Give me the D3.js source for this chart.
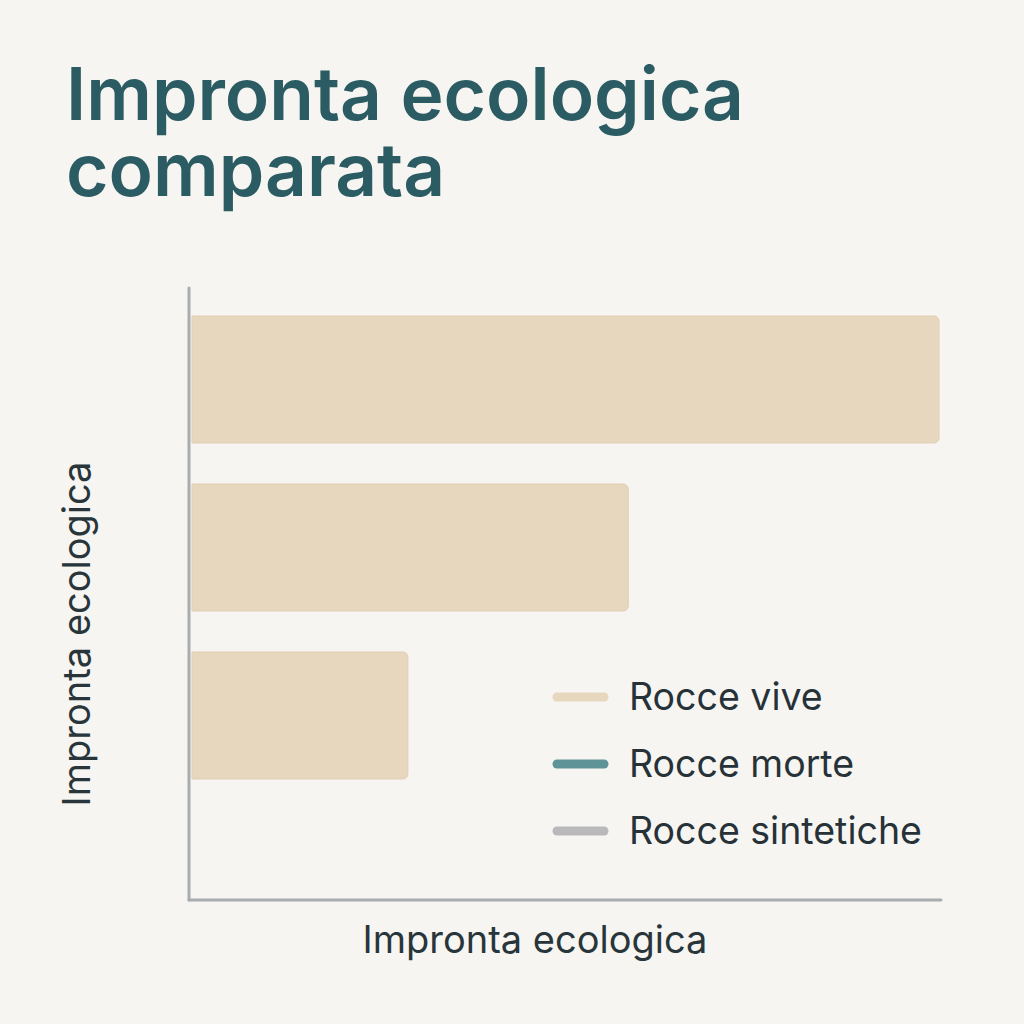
<!DOCTYPE html>
<html>
<head>
<meta charset="utf-8">
<script src="https://cdn.jsdelivr.net/npm/d3@7"></script>
<style>
  html, body { margin: 0; padding: 0; background: #f7f5f1; }
  svg { display: block; }
</style>
</head>
<body>
<div id="chart"></div>
<script>
// data
const titleLines = ['Impronta ecologica', 'comparata'];
const categories = ['Rocce vive', 'Rocce morte', 'Rocce sintetiche'];
const values = [100, 58.4, 28.9];
const legendNames = ['Rocce vive', 'Rocce morte', 'Rocce sintetiche'];
const legendColors = ['#e7d7be', '#5e9397', '#b9b9bb'];
const axisTitle = 'Impronta ecologica';

const width = 1024, height = 1024;
const svg = d3.select('#chart').append('svg')
  .attr('width', width)
  .attr('height', height);

svg.append('rect')
  .attr('width', width)
  .attr('height', height)
  .attr('fill', '#f7f5f1');

// title
svg.append('g')
  .selectAll('text')
  .data(titleLines)
  .join('text')
  .attr('x', 66)
  .attr('y', (d, i) => 120 + i * 76)
  .attr('font-family', 'Inter, "Noto Sans", sans-serif')
  .attr('font-weight', 600)
  .attr('font-size', 73)
  .attr('fill', '#2b5c64')
  .text((d) => d);

const x = d3.scaleLinear()
  .domain([0, d3.max(values)])
  .range([192, 939]);

const y = d3.scaleBand()
  .domain(categories)
  .range([316, 779])
  .paddingInner(0.244)
  .paddingOuter(0);

// bars with rounded right side
const barPath = (x0, x1, y0, h, r) => {
  const p = d3.path();
  p.moveTo(x0, y0);
  p.lineTo(x1 - r, y0);
  p.arcTo(x1, y0, x1, y0 + r, r);
  p.lineTo(x1, y0 + h - r);
  p.arcTo(x1, y0 + h, x1 - r, y0 + h, r);
  p.lineTo(x0, y0 + h);
  p.closePath();
  return p.toString();
};

svg.append('g')
  .selectAll('path')
  .data(values)
  .join('path')
  .attr('d', (d, i) => barPath(x(0), x(d), y(categories[i]), y.bandwidth(), 5))
  .attr('fill', legendColors[0])
  .attr('stroke', '#e0cfb3')
  .attr('stroke-width', 1);

// axis lines
const axisColor = '#a8acb0';
svg.append('line')
  .attr('x1', 189).attr('x2', 189)
  .attr('y1', 288).attr('y2', 900)
  .attr('stroke', axisColor)
  .attr('stroke-width', 3)
  .attr('stroke-linecap', 'round');
svg.append('line')
  .attr('x1', 189).attr('x2', 941)
  .attr('y1', 900).attr('y2', 900)
  .attr('stroke', axisColor)
  .attr('stroke-width', 3)
  .attr('stroke-linecap', 'round');

// axis titles
svg.append('text')
  .attr('x', 535)
  .attr('y', 953)
  .attr('text-anchor', 'middle')
  .attr('font-family', 'Inter, "Noto Sans", sans-serif')
  .attr('font-size', 38)
  .attr('fill', '#28363b')
  .text(axisTitle);

svg.append('text')
  .attr('transform', 'translate(90, 634) rotate(-90)')
  .attr('text-anchor', 'middle')
  .attr('font-family', 'Inter, "Noto Sans", sans-serif')
  .attr('font-size', 38)
  .attr('fill', '#28363b')
  .text(axisTitle);

// legend
const legend = svg.append('g')
  .selectAll('g')
  .data(legendNames)
  .join('g')
  .attr('transform', (d, i) => `translate(553, ${697 + i * 67})`);

legend.append('line')
  .attr('x1', 4).attr('x2', 51)
  .attr('y1', 0).attr('y2', 0)
  .attr('stroke', (d, i) => legendColors[i])
  .attr('stroke-width', 9)
  .attr('stroke-linecap', 'round');

legend.append('text')
  .attr('x', 76)
  .attr('y', 13)
  .attr('font-family', 'Inter, "Noto Sans", sans-serif')
  .attr('font-size', 37.5)
  .attr('fill', '#263238')
  .text((d) => d);
</script>
</body>
</html>
